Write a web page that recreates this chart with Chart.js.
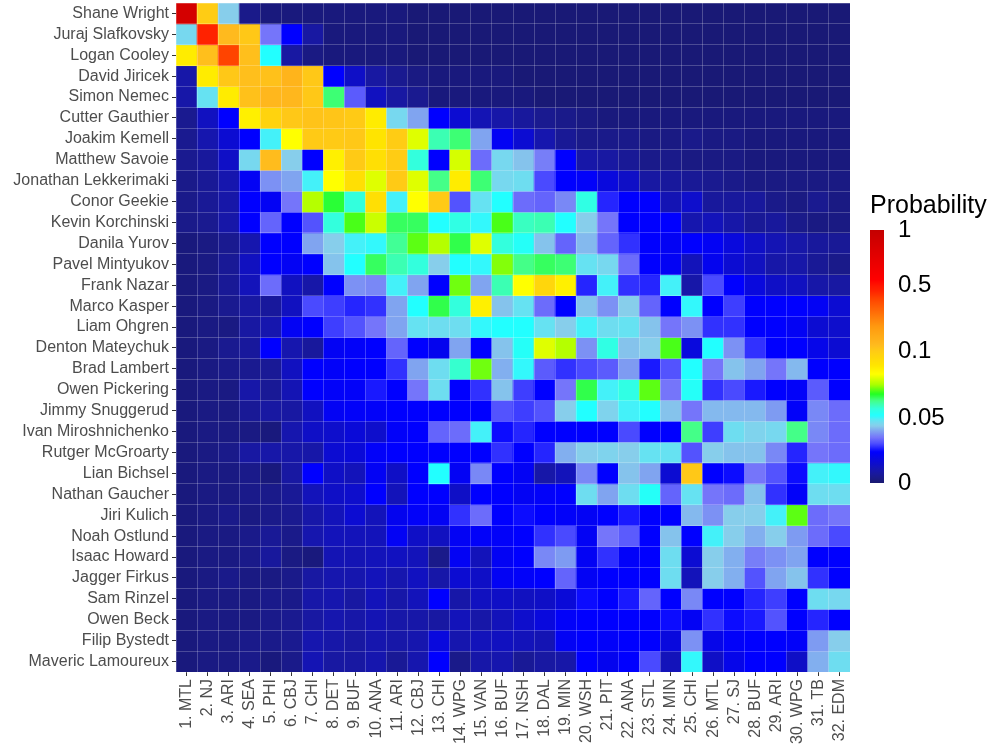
<!DOCTYPE html>
<html>
<head>
<meta charset="utf-8">
<script src="https://cdn.jsdelivr.net/npm/chart.js@4/dist/chart.umd.min.js"></script>
<style>
html,body{margin:0;padding:0;background:#fff;}
#wrap{position:relative;width:992px;height:750px;overflow:hidden;}
#main{position:absolute;left:0;top:0;}
#bar{position:absolute;left:855px;top:180px;}
</style>
</head>
<body>
<div id="wrap">
<canvas id="main" width="992" height="750"></canvas>
<canvas id="bar" width="137" height="320"></canvas>
</div>
<script>
const teams = ["1. MTL","2. NJ","3. ARI","4. SEA","5. PHI","6. CBJ","7. CHI","8. DET","9. BUF","10. ANA","11. ARI","12. CBJ","13. CHI","14. WPG","15. VAN","16. BUF","17. NSH","18. DAL","19. MIN","20. WSH","21. PIT","22. ANA","23. STL","24. MIN","25. CHI","26. MTL","27. SJ","28. BUF","29. ARI","30. WPG","31. TB","32. EDM"];
const players = ["Shane Wright","Juraj Slafkovsky","Logan Cooley","David Jiricek","Simon Nemec","Cutter Gauthier","Joakim Kemell","Matthew Savoie","Jonathan Lekkerimaki","Conor Geekie","Kevin Korchinski","Danila Yurov","Pavel Mintyukov","Frank Nazar","Marco Kasper","Liam Ohgren","Denton Mateychuk","Brad Lambert","Owen Pickering","Jimmy Snuggerud","Ivan Miroshnichenko","Rutger McGroarty","Lian Bichsel","Nathan Gaucher","Jiri Kulich","Noah Ostlund","Isaac Howard","Jagger Firkus","Sam Rinzel","Owen Beck","Filip Bystedt","Maveric Lamoureux"];

// probability of each player going at each pick (columns follow `teams`)
const pWright      = [0.88,0.10,0.044,0.004,0.002,0.002,0.002,0.002,0.002,0.002,0.002, 0.001,0.001,0.001,0.001,0.001,0.001,0.001,0.001,0.001,0.001,0.001, 0.001,0.001,0.001,0.001,0.001,0.001,0.001,0.001,0.001,0.001];
const pSlafkovsky  = [0.046,0.47,0.14,0.11,0.035,0.024,0.008,0.002,0.002,0.002,0.002, 0.001,0.001,0.001,0.001,0.001,0.001,0.001,0.001,0.001,0.001,0.001, 0.001,0.001,0.001,0.001,0.001,0.001,0.001,0.001,0.001,0.001];
const pCooley      = [0.088,0.13,0.42,0.13,0.052,0.008,0.003,0.002,0.002,0.002,0.002, 0.001,0.001,0.001,0.001,0.001,0.001,0.001,0.001,0.001,0.001,0.001, 0.001,0.001,0.001,0.001,0.001,0.001,0.001,0.001,0.001,0.001];
const pJiricek     = [0.009,0.088,0.11,0.13,0.125,0.16,0.11,0.024,0.014,0.008,0.005, 0.003,0.002,0.002,0.002,0.002,0.001,0.001,0.001,0.001,0.001,0.001, 0.001,0.001,0.001,0.001,0.001,0.001,0.001,0.001,0.001,0.001];
const pNemec       = [0.009,0.048,0.088,0.125,0.15,0.15,0.11,0.064,0.032,0.013,0.008, 0.005,0.002,0.002,0.002,0.002,0.002,0.001,0.001,0.001,0.001,0.001, 0.001,0.001,0.001,0.001,0.001,0.001,0.001,0.001,0.001,0.001];
const pGauthier    = [0.005,0.013,0.024,0.087,0.097,0.11,0.12,0.115,0.105,0.088,0.046, 0.04,0.024,0.016,0.011,0.009,0.007,0.005,0.004,0.003,0.002,0.002, 0.002,0.002,0.002,0.002,0.002,0.002,0.002,0.002,0.002,0.002];
const pKemell      = [0.005,0.01,0.016,0.024,0.05,0.083,0.105,0.105,0.11,0.09,0.1, 0.08,0.06,0.064,0.04,0.022,0.016,0.01,0.006,0.004,0.004,0.004, 0.003,0.003,0.004,0.003,0.003,0.002,0.002,0.002,0.002,0.002];
const pSavoie      = [0.005,0.007,0.014,0.046,0.135,0.044,0.024,0.087,0.105,0.092,0.1, 0.057,0.024,0.079,0.034,0.046,0.043,0.036,0.024,0.009,0.008,0.006, 0.004,0.004,0.003,0.003,0.003,0.002,0.002,0.002,0.002,0.002];
const pLekkerimaki = [0.004,0.006,0.01,0.022,0.038,0.04,0.05,0.083,0.092,0.08,0.105, 0.08,0.063,0.088,0.064,0.046,0.047,0.03,0.024,0.023,0.018,0.014, 0.008,0.007,0.006,0.005,0.004,0.003,0.003,0.003,0.003,0.003];
const pGeekie      = [0.004,0.006,0.009,0.024,0.022,0.035,0.076,0.067,0.057,0.092,0.05, 0.083,0.105,0.031,0.048,0.052,0.034,0.033,0.037,0.056,0.027,0.024, 0.024,0.011,0.015,0.007,0.007,0.007,0.004,0.003,0.005,0.003];
const pKorchinski  = [0.004,0.005,0.009,0.024,0.033,0.024,0.031,0.057,0.07,0.078,0.065, 0.065,0.052,0.056,0.051,0.07,0.059,0.06,0.052,0.044,0.035,0.024, 0.024,0.024,0.01,0.012,0.009,0.006,0.007,0.004,0.003,0.003];
const pYurov       = [0.002,0.003,0.005,0.01,0.024,0.024,0.04,0.044,0.05,0.051,0.062, 0.071,0.076,0.066,0.08,0.057,0.053,0.043,0.033,0.042,0.033,0.028, 0.024,0.022,0.024,0.022,0.018,0.014,0.011,0.009,0.007,0.006];
const pMintyukov   = [0.002,0.003,0.006,0.013,0.024,0.022,0.024,0.043,0.052,0.065,0.06, 0.057,0.044,0.052,0.051,0.073,0.063,0.065,0.064,0.048,0.046,0.034, 0.024,0.022,0.012,0.021,0.016,0.013,0.009,0.009,0.006,0.004];
const pNazar       = [0.002,0.003,0.006,0.012,0.034,0.013,0.009,0.024,0.038,0.037,0.05, 0.04,0.024,0.072,0.04,0.06,0.083,0.096,0.087,0.027,0.05,0.028, 0.027,0.05,0.009,0.03,0.024,0.018,0.014,0.013,0.009,0.008];
const pKasper      = [0.002,0.003,0.005,0.008,0.007,0.013,0.03,0.029,0.027,0.028,0.04, 0.052,0.066,0.057,0.087,0.043,0.048,0.034,0.024,0.043,0.038,0.044, 0.033,0.024,0.051,0.024,0.029,0.024,0.024,0.024,0.022,0.016];
const pOhgren      = [0.002,0.003,0.003,0.008,0.01,0.022,0.024,0.029,0.031,0.035,0.04, 0.048,0.047,0.047,0.051,0.052,0.052,0.048,0.044,0.05,0.047,0.048, 0.043,0.035,0.038,0.028,0.028,0.024,0.024,0.022,0.016,0.015];
const pMateychuk   = [0.002,0.003,0.005,0.007,0.024,0.01,0.007,0.022,0.023,0.024,0.033, 0.024,0.021,0.04,0.024,0.043,0.053,0.08,0.076,0.038,0.056,0.043, 0.044,0.07,0.018,0.052,0.038,0.028,0.024,0.024,0.02,0.016];
const pLambert     = [0.002,0.003,0.004,0.005,0.006,0.013,0.024,0.023,0.024,0.024,0.028, 0.04,0.047,0.058,0.072,0.041,0.051,0.032,0.028,0.03,0.032,0.039, 0.026,0.031,0.052,0.035,0.043,0.04,0.035,0.042,0.024,0.024];
const pPickering   = [0.002,0.003,0.003,0.009,0.006,0.011,0.024,0.023,0.023,0.026,0.024, 0.035,0.047,0.024,0.028,0.043,0.029,0.024,0.035,0.066,0.05,0.056, 0.071,0.035,0.053,0.028,0.03,0.026,0.024,0.023,0.032,0.024];
const pSnuggerud   = [0.002,0.003,0.003,0.006,0.008,0.008,0.013,0.022,0.023,0.023,0.024, 0.024,0.024,0.024,0.024,0.031,0.029,0.031,0.044,0.052,0.045,0.05, 0.052,0.043,0.035,0.042,0.042,0.042,0.039,0.023,0.037,0.034];
const pMiroshnichenko = [0.002,0.003,0.003,0.003,0.002,0.01,0.014,0.015,0.017,0.015,0.023, 0.024,0.033,0.034,0.05,0.025,0.027,0.024,0.024,0.024,0.024,0.03, 0.024,0.024,0.063,0.029,0.047,0.045,0.046,0.063,0.037,0.034];
const pMcGroarty   = [0.002,0.003,0.004,0.008,0.009,0.009,0.009,0.016,0.017,0.023,0.024, 0.024,0.024,0.024,0.024,0.028,0.024,0.027,0.041,0.044,0.045,0.044, 0.048,0.048,0.031,0.044,0.043,0.043,0.037,0.027,0.035,0.034];
const pBichsel     = [0.002,0.003,0.003,0.004,0.002,0.008,0.024,0.014,0.012,0.022,0.014, 0.024,0.052,0.022,0.037,0.024,0.022,0.009,0.012,0.037,0.024,0.043, 0.04,0.016,0.11,0.024,0.025,0.035,0.031,0.025,0.05,0.051];
const pGaucher     = [0.002,0.003,0.003,0.004,0.004,0.006,0.012,0.014,0.015,0.024,0.012, 0.024,0.024,0.014,0.024,0.024,0.022,0.023,0.024,0.047,0.04,0.047, 0.053,0.033,0.048,0.035,0.034,0.043,0.028,0.023,0.047,0.047];
const pKulich      = [0.002,0.003,0.004,0.003,0.004,0.005,0.009,0.012,0.016,0.012,0.021, 0.023,0.022,0.028,0.034,0.024,0.025,0.024,0.023,0.022,0.024,0.026, 0.024,0.024,0.042,0.038,0.044,0.044,0.05,0.071,0.034,0.035];
const pOstlund     = [0.002,0.003,0.003,0.004,0.006,0.004,0.01,0.012,0.012,0.012,0.022, 0.014,0.013,0.022,0.023,0.023,0.024,0.028,0.03,0.022,0.035,0.032, 0.024,0.043,0.024,0.05,0.044,0.041,0.044,0.039,0.034,0.03];
const pHoward      = [0.002,0.003,0.003,0.004,0.007,0.003,0.002,0.011,0.011,0.012,0.013, 0.012,0.004,0.022,0.012,0.022,0.024,0.037,0.039,0.022,0.028,0.023, 0.024,0.047,0.016,0.044,0.041,0.036,0.038,0.04,0.024,0.024];
const pFirkus      = [0.002,0.003,0.004,0.003,0.003,0.004,0.008,0.01,0.01,0.012,0.01, 0.013,0.009,0.016,0.014,0.022,0.023,0.024,0.033,0.022,0.024,0.024, 0.024,0.047,0.012,0.044,0.041,0.031,0.04,0.043,0.028,0.024];
const pRinzel      = [0.002,0.003,0.003,0.003,0.004,0.004,0.009,0.01,0.008,0.012,0.009, 0.012,0.024,0.009,0.013,0.014,0.013,0.014,0.017,0.025,0.024,0.026, 0.033,0.024,0.037,0.024,0.024,0.027,0.029,0.024,0.047,0.046];
const pBeck        = [0.002,0.003,0.003,0.003,0.004,0.005,0.008,0.01,0.009,0.011,0.009, 0.009,0.008,0.012,0.009,0.012,0.015,0.018,0.023,0.024,0.024,0.024, 0.024,0.025,0.022,0.028,0.025,0.026,0.031,0.024,0.027,0.024];
const pBystedt     = [0.002,0.003,0.003,0.004,0.004,0.005,0.01,0.009,0.008,0.01,0.009, 0.01,0.018,0.01,0.012,0.013,0.012,0.011,0.022,0.024,0.023,0.024, 0.024,0.018,0.038,0.02,0.023,0.024,0.024,0.023,0.039,0.044];
const pLamoureux   = [0.002,0.003,0.003,0.004,0.002,0.004,0.011,0.008,0.008,0.01,0.006, 0.01,0.024,0.004,0.009,0.01,0.006,0.008,0.009,0.024,0.021,0.024, 0.03,0.012,0.051,0.014,0.02,0.024,0.024,0.014,0.041,0.047];

const probabilityRows = [pWright,pSlafkovsky,pCooley,pJiricek,pNemec,pGauthier,pKemell,pSavoie,pLekkerimaki,pGeekie,pKorchinski,pYurov,pMintyukov,pNazar,pKasper,pOhgren,pMateychuk,pLambert,pPickering,pSnuggerud,pMiroshnichenko,pMcGroarty,pBichsel,pGaucher,pKulich,pOstlund,pHoward,pFirkus,pRinzel,pBeck,pBystedt,pLamoureux];

const legendBreaks = [0, 0.05, 0.1, 0.5, 1];
const legendLabels = ["0", "0.05", "0.1", "0.5", "1"];

// ---- colour scale ----
const breakPos = [0, 0.257, 0.52, 0.78, 1]; // legend position of each break
const colourStops = [
  [0.000,'#191970'],[0.005,'#1A1A90'],[0.010,'#1616AE'],[0.016,'#0C0CD2'],[0.024,'#0000FF'],
  [0.030,'#4A4AFF'],[0.035,'#7575FA'],[0.040,'#80A4F0'],[0.044,'#87CEEB'],[0.048,'#66E2F2'],
  [0.052,'#22FFFF'],[0.057,'#33FFDD'],[0.063,'#44FF88'],[0.068,'#22FF22'],[0.075,'#AAFF00'],
  [0.083,'#FFFF00'],[0.090,'#FFE400'],[0.100,'#FFCC14'],[0.140,'#FFBA1E'],[0.250,'#FF9A10'],
  [0.420,'#FF4400'],[0.470,'#FF2200'],[0.550,'#FF0000'],[1.000,'#C40000']
];
function hexRgb(h){return [parseInt(h.slice(1,3),16),parseInt(h.slice(3,5),16),parseInt(h.slice(5,7),16)];}
function colourFor(v){
  if (v <= colourStops[0][0]) return colourStops[0][1];
  for (let k = 1; k < colourStops.length; k++) {
    if (v <= colourStops[k][0]) {
      const [v0,c0] = colourStops[k-1], [v1,c1] = colourStops[k];
      const f = (v - v0) / (v1 - v0);
      const a = hexRgb(c0), b = hexRgb(c1);
      const c = a.map((x,i)=>Math.round(x + (b[i]-x)*f));
      return 'rgb(' + c.join(',') + ')';
    }
  }
  return colourStops[colourStops.length-1][1];
}
function toPos(v){
  for (let k = 1; k < legendBreaks.length; k++) {
    if (v <= legendBreaks[k]) {
      const f = (v - legendBreaks[k-1]) / (legendBreaks[k] - legendBreaks[k-1]);
      return breakPos[k-1] + f * (breakPos[k] - breakPos[k-1]);
    }
  }
  return 1;
}
function fromPos(t){
  for (let k = 1; k < breakPos.length; k++) {
    if (t <= breakPos[k]) {
      const f = (t - breakPos[k-1]) / (breakPos[k] - breakPos[k-1]);
      return legendBreaks[k-1] + f * (legendBreaks[k] - legendBreaks[k-1]);
    }
  }
  return 1;
}
function noPad(s){ s.paddingTop = 0; s.paddingBottom = 0; s.paddingLeft = 0; s.paddingRight = 0; }

const FONT = "'Liberation Sans', Arial, Helvetica, sans-serif";
Chart.defaults.font.family = FONT;
Chart.defaults.animation = false;

const datasets = probabilityRows.map((row, i) => ({
  label: players[i],
  data: row.map(() => [i, i + 1]),
  backgroundColor: row.map(colourFor),
  borderWidth: 0,
  barPercentage: 1,
  categoryPercentage: 1,
  grouped: false,
  xAxisID: 'x',
  yAxisID: 'y'
}));

new Chart(document.getElementById('main'), {
  type: 'bar',
  data: { labels: teams, datasets },
  options: {
    responsive: false,
    animation: false,
    layout: { padding: { left: 0, right: 142, top: 3, bottom: 0 } },
    plugins: { legend: { display: false }, tooltip: { enabled: false }, title: { display: false } },
    scales: {
      x: {
        type: 'category', position: 'bottom', offset: true,
        grid: { offset: false, drawOnChartArea: false, tickLength: 4, color: '#333333' },
        border: { display: false },
        ticks: { autoSkip: false, minRotation: 90, maxRotation: 90, padding: 3, color: '#4D4D4D', font: { size: 16 } },
        afterFit: (s) => { s.height = 78; noPad(s); }
      },
      x2: {
        type: 'category', position: 'top', offset: true, labels: teams,
        grid: { offset: true, drawTicks: false, color: 'rgba(255,255,255,0.22)', lineWidth: 1, z: 1 },
        border: { display: false },
        ticks: { display: false },
        afterFit: (s) => { s.height = 0; noPad(s); }
      },
      y: {
        type: 'linear', position: 'left', min: 0, max: 32, reverse: true,
        afterBuildTicks: (axis) => { axis.ticks = players.map((p, i) => ({ value: i + 0.5 })); },
        grid: { drawOnChartArea: false, tickLength: 4, color: '#333333' },
        border: { display: false },
        ticks: { autoSkip: false, padding: 3, color: '#4D4D4D', font: { size: 16 }, callback: (v, i) => players[i] },
        afterFit: (s) => { s.width = 176; noPad(s); }
      },
      y2: {
        type: 'linear', position: 'right', min: 0, max: 32, reverse: true,
        afterBuildTicks: (axis) => { axis.ticks = players.concat(['']).map((p, i) => ({ value: i })); },
        grid: { drawTicks: false, color: 'rgba(255,255,255,0.22)', lineWidth: 1, z: 1 },
        border: { display: false },
        ticks: { display: false },
        afterFit: (s) => { s.width = 0; noPad(s); }
      }
    }
  }
});

// ---- colour bar legend ----
new Chart(document.getElementById('bar'), {
  type: 'bar',
  data: {
    labels: [''],
    datasets: [{
      data: [[0, 1]],
      borderWidth: 0, barPercentage: 1, categoryPercentage: 1,
      backgroundColor: (context) => {
        const { ctx, chartArea } = context.chart;
        if (!chartArea) return '#191970';
        const g = ctx.createLinearGradient(0, chartArea.bottom, 0, chartArea.top);
        for (let k = 0; k <= 200; k++) { const t = k / 200; g.addColorStop(t, colourFor(fromPos(t))); }
        return g;
      }
    }]
  },
  options: {
    responsive: false,
    animation: false,
    layout: { padding: { left: 15, right: 0, top: 0, bottom: 17 } },
    plugins: {
      legend: { display: false }, tooltip: { enabled: false },
      title: { display: true, text: 'Probability', align: 'start', color: '#000000', font: { size: 25, weight: 'normal' }, padding: { top: 11, bottom: 9 } }
    },
    scales: {
      x: { display: false },
      y: {
        type: 'linear', position: 'right', min: 0, max: 1,
        afterBuildTicks: (axis) => { axis.ticks = legendBreaks.map((b) => ({ value: toPos(b) })); },
        grid: { display: false, drawTicks: false },
        border: { display: false },
        ticks: { autoSkip: false, padding: 14, color: '#000000', font: { size: 24 }, callback: (v, i) => legendLabels[i] },
        afterFit: (s) => { s.width = 108; noPad(s); }
      }
    }
  }
});
</script>
</body>
</html>
